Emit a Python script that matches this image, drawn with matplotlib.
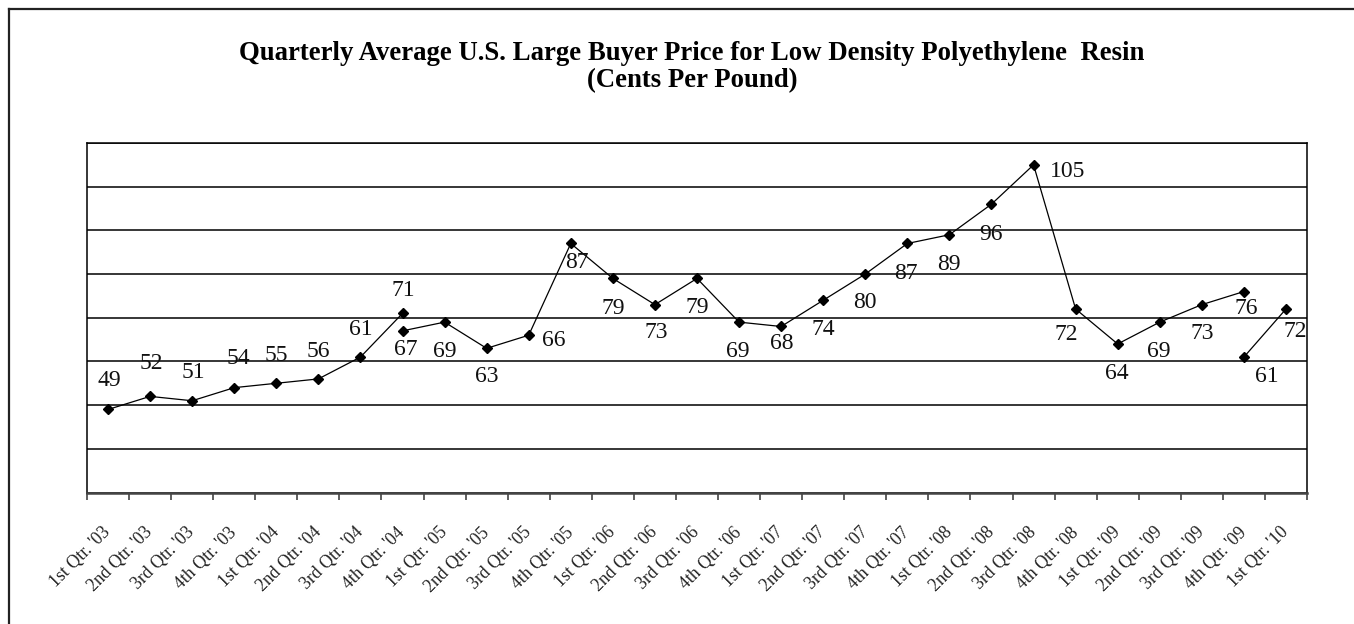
import matplotlib
matplotlib.use("Agg")
import matplotlib.pyplot as plt
from matplotlib.lines import Line2D

# ---------------- data ----------------
quarters = [
    "1st Qtr. '03", "2nd Qtr. '03", "3rd Qtr. '03", "4th Qtr. '03",
    "1st Qtr. '04", "2nd Qtr. '04", "3rd Qtr. '04", "4th Qtr. '04",
    "1st Qtr. '05", "2nd Qtr. '05", "3rd Qtr. '05", "4th Qtr. '05",
    "1st Qtr. '06", "2nd Qtr. '06", "3rd Qtr. '06", "4th Qtr. '06",
    "1st Qtr. '07", "2nd Qtr. '07", "3rd Qtr. '07", "4th Qtr. '07",
    "1st Qtr. '08", "2nd Qtr. '08", "3rd Qtr. '08", "4th Qtr. '08",
    "1st Qtr. '09", "2nd Qtr. '09", "3rd Qtr. '09", "4th Qtr. '09",
    "1st Qtr. '10",
]

# three line segments as drawn in the original chart
seg_a_start = "1st Qtr. '03"
seg_a_values = [49, 52, 51, 54, 55, 56, 61, 71]

seg_b_start = "4th Qtr. '04"
seg_b_values = [67, 69, 63, 66, 87, 79, 73, 79, 69, 68, 74, 80,
                87, 89, 96, 105, 72, 64, 69, 73, 76]

seg_c_start = "4th Qtr. '09"
seg_c_values = [61, 72]

title_line1 = "Quarterly Average U.S. Large Buyer Price for Low Density Polyethylene  Resin"
title_line2 = "(Cents Per Pound)"

# data-label offsets in pixels (dx, dy), styling only
seg_a_label_offsets = [(1, 29), (1, 33), (1, 28), (4, 29), (0, 28), (0, 27), (0, 28), (1, 23)]
seg_b_label_offsets = [(3, -19), (0, -29), (0, -28), (25, -5), (6, -19), (0, -30), (1, -28),
                       (0, -29), (-1, -29), (1, -17), (0, -29), (0, -28), (-1, -30), (-1, -30),
                       (0, -30), (34, -7), (-9, -25), (-1, -30), (-1, -29), (0, -29), (2, -17)]
seg_c_label_offsets = [(23, -19), (9, -22)]

# ---------------- figure ----------------
W, H, DPI = 1354, 624, 100
fig = plt.figure(figsize=(W / DPI, H / DPI), dpi=DPI)
serif = ["Liberation Serif", "DejaVu Serif"]

left, right, top, bottom = 87 / W, 1307 / W, 143 / H, 492.5 / H
ax = fig.add_axes([left, 1 - bottom, right - left, bottom - top])

ax.set_xlim(-0.5, len(quarters) - 0.5)
ax.set_ylim(30, 110)

# horizontal gridlines
ax.set_yticks(range(30, 111, 10))
ax.yaxis.grid(True, color="black", lw=1.1)
ax.tick_params(axis="y", length=0, labelleft=False)
ax.set_axisbelow(True)

for s in ax.spines.values():
    s.set_color("black")
    s.set_linewidth(1.1)
ax.spines["bottom"].set_color("#444444")
ax.spines["bottom"].set_linewidth(1.8)

# x ticks: labels at centers, marks at boundaries
xs = list(range(len(quarters)))
ax.set_xticks(xs)
ax.set_xticklabels(quarters, rotation=45, ha="right", va="center",
                   rotation_mode="anchor", family=serif, fontsize=12.8, color="#222222")
ax.tick_params(axis="x", which="major", length=0, pad=27)
ax.set_xticks([i - 0.5 for i in range(len(quarters) + 1)], minor=True)
ax.tick_params(axis="x", which="minor", length=5, width=1.1, color="#333333", direction="out")


def draw_segment(start_name, values, offsets):
    i0 = quarters.index(start_name)
    x = list(range(i0, i0 + len(values)))
    ax.plot(x, values, color="black", lw=0.9, marker="D", ms=5.2,
            mfc="black", mec="black", zorder=3, clip_on=False)
    for xi, v, (dx, dy) in zip(x, values, offsets):
        ax.annotate(str(v), (xi, v), xytext=(dx, dy), textcoords="offset pixels",
                    ha="center", va="center", family=serif, fontsize=17, color="#111111",
                    zorder=4, annotation_clip=False)


draw_segment(seg_a_start, seg_a_values, seg_a_label_offsets)
draw_segment(seg_b_start, seg_b_values, seg_b_label_offsets)
draw_segment(seg_c_start, seg_c_values, seg_c_label_offsets)

# title (two lines)
fig.text(692 / W, 1 - 53 / H, title_line1, ha="center", va="center",
         family=serif, fontweight="bold", fontsize=19.3)
fig.text(692 / W, 1 - 81 / H, title_line2, ha="center", va="center",
         family=serif, fontweight="bold", fontsize=19.3)

# outer frame (left and top edges)
fig.add_artist(Line2D([9 / W, 9 / W], [0, 1 - 9 / H], transform=fig.transFigure,
                      color="#222222", lw=1.6))
fig.add_artist(Line2D([9 / W, 1], [1 - 9 / H, 1 - 9 / H], transform=fig.transFigure,
                      color="#222222", lw=1.6))

fig.savefig("out.png", dpi=DPI)
